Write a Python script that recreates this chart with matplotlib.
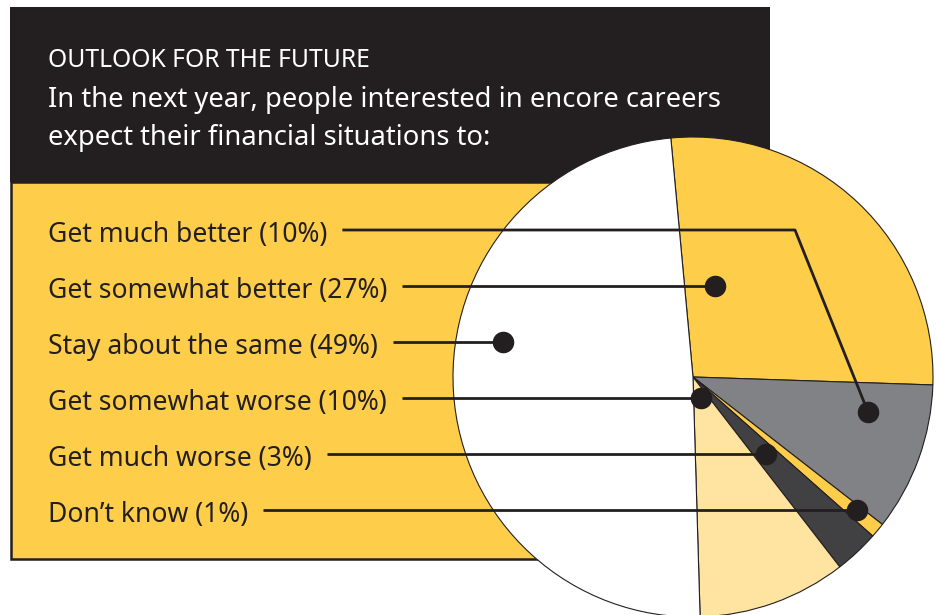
#!/usr/bin/env python3
# Pie chart: outlook for personal finances over the next year,
# with a label column on a yellow panel and leader lines into the slices.

import matplotlib
matplotlib.use("Agg")
import matplotlib.pyplot as plt
from matplotlib.patches import Rectangle

W, H = 936, 615  # canvas size in pixels

# Survey answers, in the order they are listed
labels = [
    "Get much better",
    "Get somewhat better",
    "Stay about the same",
    "Get somewhat worse",
    "Get much worse",
    "Don\u2019t know",
]
shares = [10, 27, 49, 10, 3, 1]
colors = ["#808285", "#FECE4B", "#FFFFFF", "#FEE3A1", "#414042", "#FECE4B"]

# Order the slices are drawn in, clockwise from the top
pie_order = [1, 0, 5, 4, 3, 2]

title = "OUTLOOK FOR THE FUTURE"
subtitle = ["In the next year, people interested in encore careers",
            "expect their financial situations to:"]

DARK = "#231F20"
YELLOW = "#FECE4B"

# Layout (pixels from the top-left corner)
pie_center = (693, 377)
pie_radius = 240
label_x = 48
label_baseline0 = 242
label_step = 56
dot_x = [868, 715, 503, 701, 766, 857]
bend = {0: (795, None)}  # "much better" line bends down to its slice


def Y(y):
    return H - y


fig = plt.figure(figsize=(W / 100, H / 100), dpi=100)
ax = fig.add_axes([0, 0, 1, 1])
ax.set_axis_off()

# Header band and label panel
ax.add_patch(Rectangle((10, Y(182)), 760, 175, facecolor=DARK, edgecolor="none", zorder=0))
ax.add_patch(Rectangle((10.5, Y(559)), 760, 377, facecolor=YELLOW, edgecolor=DARK,
                       linewidth=1.8, zorder=0))

ax.text(label_x, Y(67), title, color="white", fontsize=17.8, family="Noto Sans",
        va="baseline", ha="left")
for i, line in enumerate(subtitle):
    ax.text(label_x, Y(107 + 38 * i), line, color="white", fontsize=19.7,
            family="Noto Sans", va="baseline", ha="left")

# Pie
ax.pie([shares[i] for i in pie_order], colors=[colors[i] for i in pie_order],
       startangle=95.3, counterclock=False, center=(pie_center[0], Y(pie_center[1])),
       radius=pie_radius, wedgeprops=dict(edgecolor=DARK, linewidth=0.8))

ax.set_xlim(0, W)
ax.set_ylim(0, H)
ax.set_aspect("equal")

# Labels with leader lines
texts = []
for i, (lab, val) in enumerate(zip(labels, shares)):
    yb = label_baseline0 + label_step * i
    t = ax.text(label_x, Y(yb), f"{lab} ({val}%)", color=DARK, fontsize=19.1,
                family="Noto Sans", va="baseline", ha="left", zorder=5)
    texts.append(t)

fig.canvas.draw()
renderer = fig.canvas.get_renderer()
inv = ax.transData.inverted()
for i, t in enumerate(texts):
    bb = t.get_window_extent(renderer)
    x_end = inv.transform((bb.x1, bb.y0))[0]
    yl = label_baseline0 + label_step * i - 12
    if i in bend:
        bx = bend[i][0]
        xs = [x_end + 15, bx, dot_x[i]]
        ys = [Y(yl), Y(yl), Y(412)]
    else:
        xs = [x_end + 15, dot_x[i]]
        ys = [Y(yl), Y(yl)]
    ax.plot(xs, ys, color=DARK, linewidth=2, solid_capstyle="butt", zorder=3)
    ax.plot(xs[-1], ys[-1], "o", color=DARK, markersize=14.5, zorder=4)

fig.savefig("out.png", dpi=100)
